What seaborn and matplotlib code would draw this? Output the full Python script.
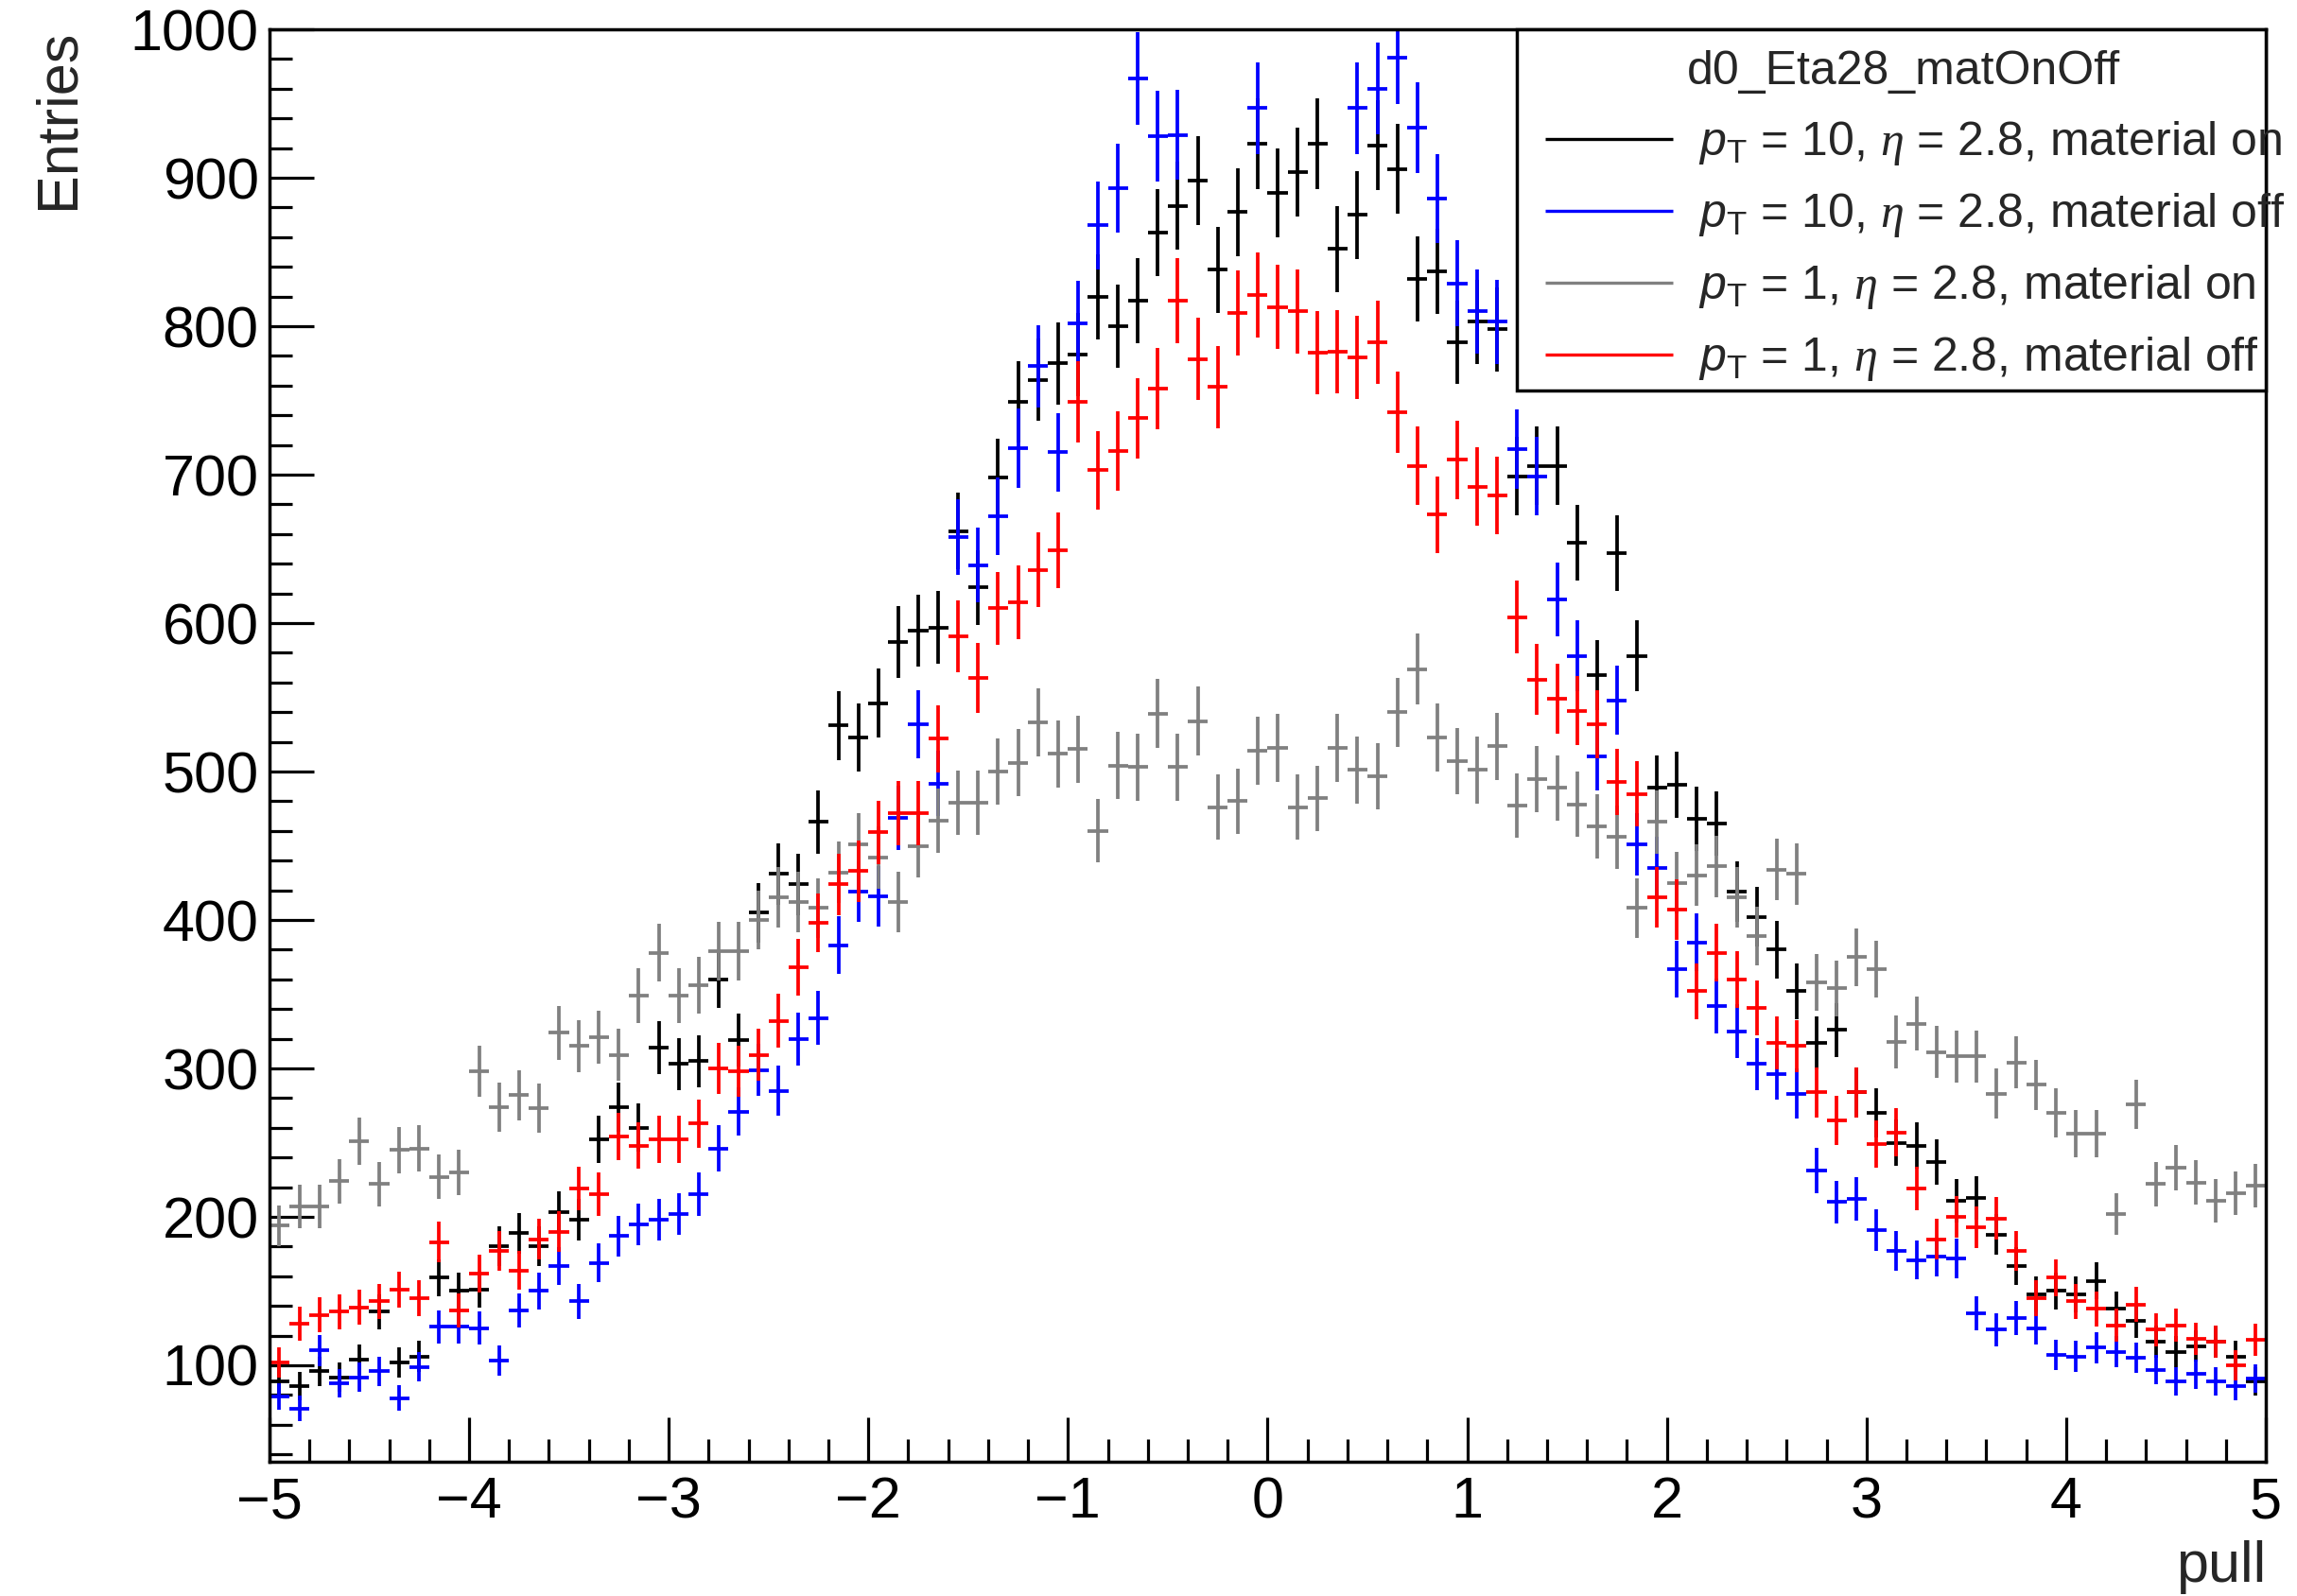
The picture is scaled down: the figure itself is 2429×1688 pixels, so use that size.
import numpy as np
import pandas as pd
import matplotlib
matplotlib.use("Agg")
import matplotlib.pyplot as plt
import seaborn as sns
import seaborn.objects as so
from matplotlib.ticker import MultipleLocator, FixedLocator
from matplotlib.patches import Rectangle

# ---------------- data ----------------
bin_low = -5.0
bin_width = 0.1
n_bins = 100

black_on10 = [89, 86, 96, 92, 104, 136, 102, 106, 159, 150,
              151, 180, 189, 180, 203, 198, 252, 274, 260, 314,
              303, 305, 360, 319, 405, 431, 424, 466, 531, 523,
              546, 587, 595, 597, 662, 624, 698, 749, 764, 775,
              781, 820, 800, 817, 863, 881, 898, 838, 877, 923,
              890, 904, 923, 852, 875, 922, 906, 832, 837, 789,
              803, 798, 699, 706, 706, 654, 565, 647, 578, 489,
              491, 468, 465, 419, 402, 380, 352, 317, 326, 284,
              270, 250, 248, 237, 211, 213, 188, 167, 148, 150,
              148, 157, 138, 130, 116, 109, 113, 116, 106, 89]

blue_off10 = [79, 71, 110, 88, 92, 96, 78, 99, 126, 126,
              125, 103, 137, 150, 167, 143, 169, 187, 195, 198,
              202, 215, 246, 271, 299, 285, 320, 334, 383, 419,
              416, 469, 532, 492, 658, 639, 672, 718, 773, 715,
              802, 868, 893, 967, 928, 929, 1025, 1040, 1015, 947,
              1030, 1020, 1045, 1010, 947, 960, 981, 934, 886, 829,
              810, 803, 717, 699, 616, 578, 510, 548, 451, 435,
              367, 385, 342, 325, 303, 296, 283, 231, 210, 212,
              191, 177, 171, 173, 172, 135, 124, 132, 125, 107,
              106, 112, 109, 105, 97, 89, 94, 89, 86, 91]

gray_on1 = [194, 207, 207, 224, 251, 222, 245, 246, 227, 230,
            298, 274, 282, 273, 324, 315, 321, 309, 349, 378,
            349, 356, 379, 379, 400, 415, 412, 408, 432, 451,
            442, 412, 450, 467, 479, 479, 500, 506, 533, 512,
            515, 460, 504, 503, 539, 503, 534, 476, 480, 514,
            516, 476, 482, 516, 501, 497, 540, 569, 523, 507,
            501, 517, 477, 495, 489, 478, 463, 456, 408, 466,
            425, 430, 436, 415, 389, 434, 431, 358, 354, 375,
            367, 318, 330, 311, 308, 308, 283, 304, 289, 270,
            256, 256, 202, 276, 222, 233, 223, 211, 216, 221]

red_off1 = [102, 128, 134, 136, 139, 143, 151, 145, 183, 137,
            162, 177, 164, 185, 190, 219, 215, 254, 248, 252,
            252, 263, 300, 298, 309, 332, 368, 398, 424, 433,
            459, 472, 472, 522, 591, 563, 610, 614, 636, 649,
            749, 703, 716, 738, 758, 817, 778, 759, 809, 821,
            813, 810, 782, 783, 779, 789, 742, 706, 673, 710,
            692, 686, 604, 562, 549, 541, 532, 493, 485, 415,
            407, 352, 378, 360, 341, 317, 315, 284, 265, 284,
            249, 257, 219, 185, 200, 193, 199, 177, 145, 159,
            143, 138, 127, 141, 124, 127, 118, 116, 100, 117]

series_labels = [
    r"$\mathit{p}_{\mathrm{T}}$ = 10, $\mathsf{\eta}$ = 2.8, material on",
    r"$\mathit{p}_{\mathrm{T}}$ = 10, $\mathsf{\eta}$ = 2.8, material off",
    r"$\mathit{p}_{\mathrm{T}}$ = 1, $\mathsf{\eta}$ = 2.8, material on",
    r"$\mathit{p}_{\mathrm{T}}$ = 1, $\mathsf{\eta}$ = 2.8, material off",
]
series_values = [black_on10, blue_off10, gray_on1, red_off1]
series_colors = ["#000000", "#0000ff", "#808080", "#ff0000"]
legend_header = "d0_Eta28_matOnOff"
x_title = "pull"
y_title = "Entries"

Y_MIN, Y_MAX = 35, 1000
X_MIN, X_MAX = -5, 5

# ---------------- long table ----------------
edges = bin_low + bin_width * np.arange(n_bins + 1)
centers = 0.5 * (edges[:-1] + edges[1:])
rows = []
for lab, vals in zip(series_labels, series_values):
    v = np.asarray(vals, dtype=float)
    err = np.sqrt(v)
    rows.append(pd.DataFrame({
        "series": lab, "bin": np.arange(n_bins), "pull": centers,
        "entries": v, "lo": v - err, "hi": v + err,
        "xlo": edges[:-1], "xhi": edges[1:],
    }))
df = pd.concat(rows, ignore_index=True)

# ---------------- style ----------------
sns.set_theme(style="ticks")
base_font = "Liberation Sans"
plt.rcParams["font.family"] = [base_font, "DejaVu Sans"]
plt.rcParams["mathtext.fontset"] = "custom"
plt.rcParams["mathtext.rm"] = "Liberation Sans"
plt.rcParams["mathtext.it"] = "Liberation Sans:italic"
plt.rcParams["mathtext.sf"] = "Liberation Serif:italic"
plt.rcParams["axes.unicode_minus"] = True

DPI = 100
fig = plt.figure(figsize=(24.29, 16.88), dpi=DPI)
fig.patch.set_facecolor("white")
ax = fig.add_axes([0.1173, 0.0841, 0.8691, 0.8975])
ax.set_facecolor("white")

LW = 2.7
theme = {
    "axes.grid": False, "axes.facecolor": "white", "figure.facecolor": "white",
    "font.family": [base_font, "DejaVu Sans"],
    "mathtext.fontset": "custom", "mathtext.rm": "Liberation Sans",
    "mathtext.it": "Liberation Sans:italic", "mathtext.sf": "Liberation Serif:italic",
    "xtick.direction": "in", "ytick.direction": "in",
}

p = so.Plot().theme(theme)
for lab, col in zip(series_labels, series_colors):
    d = df[(df["series"] == lab) & (df["entries"] <= Y_MAX)]
    p = p.add(so.Range(color=col, linewidth=LW, artist_kws={"capstyle": "butt"}),
              data=d, x="pull", ymin="lo", ymax="hi", group="bin")
    p = p.add(so.Range(color=col, linewidth=LW, artist_kws={"capstyle": "butt"}),
              data=d, y="entries", xmin="xlo", xmax="xhi", group="bin", orient="y")
p.on(ax).plot()

# ---------------- axes (ROOT look) ----------------
ax.set_xlim(X_MIN, X_MAX)
ax.set_ylim(Y_MIN, Y_MAX)
ax.set_xlabel("")
ax.set_ylabel("")
ax.grid(False)
ax.xaxis.set_major_locator(MultipleLocator(1))
ax.xaxis.set_minor_locator(MultipleLocator(0.2))
ax.yaxis.set_major_locator(FixedLocator(np.arange(100, 1001, 100)))
ax.yaxis.set_minor_locator(MultipleLocator(20))
ax.xaxis.set_major_formatter(matplotlib.ticker.FuncFormatter(
    lambda v, pos: f"{int(round(v))}".replace("-", "\u2212")))
ax.yaxis.set_major_formatter(matplotlib.ticker.FuncFormatter(
    lambda v, pos: f"{int(round(v))}"))
ax.tick_params(which="both", direction="in", top=False, right=False,
               width=2.3, color="black", labelcolor="black",
               labelfontfamily=base_font)
ax.tick_params(which="major", length=34, labelsize=44)
ax.tick_params(which="minor", length=17)
ax.tick_params(axis="x", which="major", pad=11)
ax.tick_params(axis="y", which="major", pad=8)
for s in ax.spines.values():
    s.set_visible(True)
    s.set_linewidth(2.5)
    s.set_color("black")

ax.text(-0.1056, 1.0, y_title, transform=ax.transAxes, rotation=90,
        ha="center", va="top", fontsize=44, fontfamily=base_font)
ax.text(1.0, -0.084, x_title, transform=ax.transAxes, ha="right",
        va="baseline", fontsize=44, fontfamily=base_font)

# ---------------- legend (ROOT TLegend style) ----------------
leg_x0, leg_y0, leg_w, leg_h = 0.625, 0.748, 0.375, 0.252
ax.add_patch(Rectangle((leg_x0, leg_y0), leg_w, leg_h, transform=ax.transAxes,
                       facecolor="white", edgecolor="black", linewidth=2.5,
                       zorder=5, clip_on=False))
ax.text(0.710, 0.962, legend_header, transform=ax.transAxes, ha="left",
        va="baseline", fontsize=36, fontfamily=base_font, zorder=6)
row_y = [0.9233, 0.8732, 0.8231, 0.7730]
for yy, lab, col in zip(row_y, series_labels, series_colors):
    ax.plot([0.639, 0.703], [yy, yy], transform=ax.transAxes, color=col,
            linewidth=2.4, solid_capstyle="butt", zorder=6, clip_on=False)
    ax.text(0.716, yy - 0.011, lab, transform=ax.transAxes, ha="left",
            va="baseline", fontsize=36, fontfamily=base_font, zorder=6,
            clip_on=False)

fig.savefig("out.png", dpi=DPI, facecolor="white")
